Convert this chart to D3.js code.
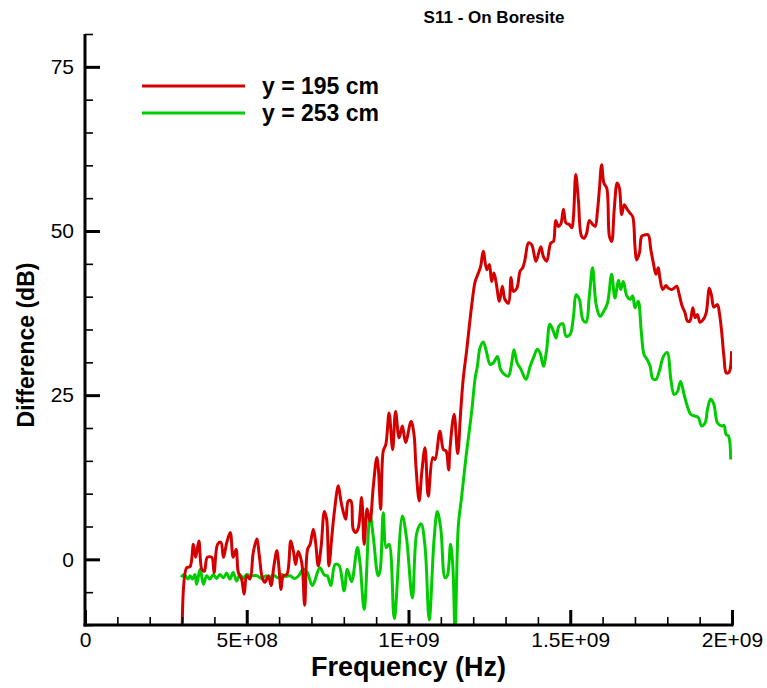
<!DOCTYPE html>
<html>
<head>
<meta charset="utf-8">
<script src="https://cdn.jsdelivr.net/npm/d3@7"></script>
<style>
  body { margin: 0; background: #fff; }
  text { font-family: "Liberation Sans", Arial, Helvetica, sans-serif; fill: #000; }
</style>
</head>
<body>
<svg id="main-graph"></svg>
<script>
// frequencies in MHz, values in dB
const freqRed = [
  300, 314, 325, 335, 342, 352, 361, 369, 378, 392,
  399, 410, 420, 428, 438, 449, 458, 467, 474, 484,
  492, 500, 510, 520, 531, 539, 548, 556, 567, 575,
  584, 593, 600, 606, 613, 624, 636, 644, 651, 659,
  670, 679, 688, 696, 706, 713, 721, 730, 740, 747,
  754, 763, 771, 783, 791, 799, 806, 814, 822, 829,
  837, 845, 855, 863, 872, 881, 891, 902, 907, 914,
  922, 930, 940, 951, 960, 971, 981, 991, 1008, 1017,
  1023, 1033, 1041, 1051, 1061, 1075, 1082, 1097, 1108, 1116,
  1124, 1128, 1141, 1152, 1161, 1169, 1180, 1188, 1195, 1206,
  1216, 1223, 1231, 1242, 1250, 1257, 1264, 1271, 1281, 1290,
  1298, 1309, 1317, 1324, 1335, 1345, 1353, 1360, 1371, 1381,
  1394, 1409, 1417, 1427, 1440, 1448, 1455, 1463, 1471, 1479,
  1487, 1497, 1505, 1510, 1517, 1525, 1535, 1543, 1551, 1559,
  1569, 1577, 1584, 1590, 1597, 1604, 1613, 1621, 1628, 1636,
  1645, 1652, 1659, 1667, 1676, 1685, 1693, 1700, 1705, 1714,
  1721, 1731, 1741, 1749, 1757, 1765, 1772, 1777, 1786, 1796,
  1803, 1814, 1821, 1829, 1837, 1845, 1855, 1862, 1870, 1879,
  1886, 1893, 1901, 1911, 1920, 1930, 1937, 1944, 1955, 1961,
  1968, 1975, 1982, 1989, 1994, 1999
];
const dbRed = [
  -14, -1.3, -1.1, 2.3, 0.3, 2.8, -1.5, -1.8, 0.3, 0.3,
  -2, 2.3, 2.6, 0.3, 2.5, 4.1, 0.3, 1.5, -2, -3,
  -5.3, -2.5, -3, 1, 3.1, 0.5, -2.8, -3.5, -2.5, -4,
  -1, 1.3, -1.5, -4.6, -2.5, -2.3, 2.8, 1.3, -0.8, 1.2,
  -0.5, -7, 1.5, 2.3, 4.6, 2.5, -1, 2, 7.3, 6.1,
  -1, 3.5, 7.3, 11.2, 8.9, 7.1, 6.1, 8.9, 8.9, 4.6,
  4.1, 4.8, 9.4, 2.3, 7.7, 5.8, 11, 15.5, 13.7, 7.6,
  16.5, 17.5, 22.3, 16.7, 22.5, 18.5, 20.3, 17.8, 21, 19,
  14.2, 8.9, 13.2, 17, 9.6, 15.5, 15.2, 19.5, 16.7, 16.5,
  13.6, 16.7, 22.1, 16.1, 22.3, 27.4, 31.9, 35.5, 38.5, 42.3,
  43.6, 44.6, 46.9, 44.1, 44.9, 42.3, 43.6, 42.1, 39.3, 41.6,
  39.6, 39, 42.9, 40.8, 41.3, 43.9, 44.4, 45.6, 48.2, 47.9,
  45.4, 47.6, 46.1, 45.4, 48.2, 48.4, 51.6, 50.7, 51.1, 53.3,
  51.2, 51, 50.5, 52.2, 58.6, 54.8, 49.2, 48.9, 49.7, 51.6,
  51, 50.7, 53, 56.3, 60.1, 57.3, 56.5, 49.2, 48.4, 53.3,
  57.3, 56.5, 52.5, 54, 53.3, 52.7, 52.2, 47.7, 45.6, 46.7,
  49.2, 49.4, 49.4, 47.2, 45.1, 43.4, 44.4, 42.9, 41.1, 41.7,
  41.3, 41.1, 41.3, 41.6, 40.3, 38.7, 37.5, 36.3, 36.3, 38.3,
  36.8, 37.3, 36.1, 36.5, 37.5, 41.3, 40.1, 38.4, 38.8, 37.5,
  34.7, 30.9, 28.4, 28.4, 28.9, 31.7
];

const freqGreen = [
  297, 307, 318, 325, 332, 340, 345, 356, 366, 376,
  386, 397, 407, 417, 428, 438, 448, 458, 469, 479,
  489, 500, 513, 531, 546, 559, 569, 582, 596, 608,
  620, 634, 647, 659, 675, 687, 703, 726, 740, 749,
  760, 773, 785, 801, 811, 824, 842, 850, 863, 881,
  891, 906, 912, 922, 931, 940, 956, 981, 994, 1012,
  1026, 1039, 1051, 1064, 1079, 1089, 1100, 1113, 1120, 1130,
  1137, 1144, 1154, 1164, 1178, 1188, 1196, 1206, 1213, 1221,
  1231, 1242, 1252, 1262, 1275, 1285, 1298, 1309, 1319, 1326,
  1336, 1347, 1363, 1376, 1388, 1398, 1407, 1417, 1427, 1437,
  1448, 1456, 1465, 1477, 1487, 1499, 1510, 1518, 1528, 1539,
  1549, 1559, 1569, 1580, 1592, 1604, 1615, 1628, 1638, 1649,
  1656, 1664, 1675, 1685, 1693, 1700, 1710, 1719, 1728, 1738,
  1747, 1755, 1765, 1775, 1788, 1800, 1811, 1821, 1831, 1841,
  1852, 1862, 1872, 1886, 1896, 1906, 1917, 1924, 1934, 1944,
  1955, 1968, 1975, 1982, 1989, 1996
];
const dbGreen = [
  -2.7, -2.3, -3, -2.5, -3, -2.3, -3.8, -1.5, -3.8, -2.5,
  -3, -2.3, -2.9, -2.3, -2.8, -2.1, -3, -2, -3.3, -2.3,
  -2.9, -2.3, -2.5, -2.5, -2.9, -2.5, -2.9, -2.4, -2.8, -2.3,
  -2.6, -2.5, -2.9, -2.6, -1.5, -2, -4, -1.3, -2.4, -2.5,
  -4, -0.8, -0.9, -4.8, -1.5, -3.4, 1.8, -0.5, -7.6, 6.8,
  3.5, -2.5, -1.8, 7.1, 1.8, 2.3, -9, 6.6, 3.2, -5.9,
  4.1, 5.4, 2, -9.2, 3, 7.3, 4.6, -2.8, -2.5, 2.3,
  -1, -11, 5.1, 9.4, 15.7, 19.6, 22.8, 27.6, 29.4, 32.2,
  33.1, 31.4, 29.7, 29.9, 30.9, 28.9, 28.1, 27.9, 29.9, 31.9,
  29.9, 29, 27.4, 29.4, 30.9, 32, 31.4, 29.4, 31.9, 35.8,
  34.7, 33.7, 35.5, 35.9, 34, 34.2, 37, 40.3, 39.6, 36.5,
  36.1, 40.1, 44.4, 38.8, 37, 37.8, 39, 43.4, 39.8, 42.5,
  41.1, 42.3, 40.1, 39.6, 40.1, 38.3, 39.3, 35, 31.2, 30.4,
  29.4, 27.5, 27.4, 28.6, 30.9, 31.5, 27.4, 25.1, 25.5, 27.1,
  25.1, 23.3, 22.1, 21.8, 21.6, 20.3, 20.8, 22.8, 24.4, 23.6,
  20.8, 20.3, 20.4, 19, 18.8, 15.2
];

const xMajorTicks = [0, 5e8, 1e9, 1.5e9, 2e9];
const xTickLabels = ['0', '5E+08', '1E+09', '1.5E+09', '2E+09'];
const yMajorTicks = [0, 25, 50, 75];

const seriesNames = ['y = 195 cm', 'y = 253 cm'];
const seriesColors = ['#d40000', '#00cc00'];

const width = 767;
const height = 688;
const padding = { left: 85, right: 35, top: 34, down: 63 };

const svg = d3.select('#main-graph')
  .attr('width', width)
  .attr('height', height);

const xScale = d3.scaleLinear()
  .domain([0, 2e9])
  .range([padding.left, width - padding.right]);

const yScale = d3.scaleLinear()
  .domain([-10, 80])
  .range([height - padding.down, padding.top]);

// minor ticks every 1E+08 / 5 dB
const xMinor = d3.range(0, 2e9 + 1, 1e8).filter(v => v % 5e8 !== 0);
const yMinor = d3.range(-10, 81, 5).filter(v => v % 25 !== 0);

// clip data to plot area
svg.append('defs')
  .append('clipPath')
  .attr('id', 'clip')
  .append('rect')
  .attr('x', padding.left)
  .attr('y', padding.top)
  .attr('width', width - padding.left - padding.right)
  .attr('height', height - padding.top - padding.down);

const series = [
  { name: seriesNames[0], color: seriesColors[0], values: freqRed.map((f, i) => ({ f: f * 1e6, v: dbRed[i] })) },
  { name: seriesNames[1], color: seriesColors[1], values: freqGreen.map((f, i) => ({ f: f * 1e6, v: dbGreen[i] })) }
];

const line = d3.line()
  .x(d => xScale(d.f))
  .y(d => yScale(d.v))
  .curve(d3.curveCatmullRom.alpha(0.5));

const plot = svg.append('g').attr('clip-path', 'url(#clip)');

// green first so red sits on top
plot.selectAll('.series')
  .data(series.slice().reverse())
  .enter()
  .append('path')
  .attr('class', 'series')
  .attr('fill', 'none')
  .attr('stroke', d => d.color)
  .attr('stroke-width', 3)
  .attr('stroke-linejoin', 'round')
  .attr('d', d => line(d.values));

// x axis
const xAxisG = svg.append('g')
  .attr('transform', `translate(0, ${height - padding.down})`);

xAxisG.append('g')
  .call(d3.axisBottom(xScale).tickValues(xMinor).tickSize(-8).tickFormat(''))
  .call(g => g.select('.domain').remove())
  .call(g => g.selectAll('line').attr('stroke-width', 1.6));

xAxisG.append('g')
  .call(d3.axisBottom(xScale).tickValues(xMajorTicks).tickSize(-15).tickPadding(7)
    .tickFormat((d, i) => xTickLabels[i]))
  .call(g => g.select('.domain').attr('stroke-width', 3).attr('d', `M${padding.left - 1.5},0H${width - padding.right + 1.5}`))
  .call(g => g.selectAll('line').attr('stroke-width', 3))
  .call(g => g.selectAll('text').attr('font-size', 21).attr('font-family', '"Liberation Sans", Arial, sans-serif'));

// y axis
const yAxisG = svg.append('g')
  .attr('transform', `translate(${padding.left}, 0)`);

yAxisG.append('g')
  .call(d3.axisLeft(yScale).tickValues(yMinor).tickSize(-8).tickFormat(''))
  .call(g => g.select('.domain').remove())
  .call(g => g.selectAll('line').attr('stroke-width', 1.6));

yAxisG.append('g')
  .call(d3.axisLeft(yScale).tickValues(yMajorTicks).tickSize(-15).tickPadding(11))
  .call(g => g.select('.domain').attr('stroke-width', 3).attr('d', `M0,${padding.top}V${height - padding.down + 1.5}`))
  .call(g => g.selectAll('line').attr('stroke-width', 3))
  .call(g => g.selectAll('text').attr('font-size', 21).attr('font-family', '"Liberation Sans", Arial, sans-serif'));

// title
svg.append('text')
  .attr('x', 494)
  .attr('y', 23)
  .attr('text-anchor', 'middle')
  .attr('font-size', 17)
  .attr('font-weight', 'bold')
  .text('S11 - On Boresite');

// axis labels
svg.append('text')
  .attr('text-anchor', 'middle')
  .attr('transform', `translate(${(padding.left + width - padding.right) / 2}, 676)`)
  .attr('font-size', 27)
  .attr('font-weight', 'bold')
  .text('Frequency (Hz)');

svg.append('text')
  .attr('text-anchor', 'middle')
  .attr('transform', `translate(34, 345) rotate(-90)`)
  .attr('font-size', 23)
  .attr('font-weight', 'bold')
  .text('Difference (dB)');

// legend
const legend = svg.append('g')
  .attr('transform', 'translate(142, 86)');

const legendItem = legend.selectAll('.legend-item')
  .data(series)
  .enter()
  .append('g')
  .attr('class', 'legend-item')
  .attr('transform', (d, i) => `translate(0, ${i * 27})`);

legendItem.append('line')
  .attr('x1', 0)
  .attr('x2', 103)
  .attr('stroke', d => d.color)
  .attr('stroke-width', 3);

legendItem.append('text')
  .attr('x', 120)
  .attr('dy', '0.35em')
  .attr('font-size', 23)
  .attr('font-weight', 'bold')
  .text(d => d.name);
</script>
</body>
</html>
